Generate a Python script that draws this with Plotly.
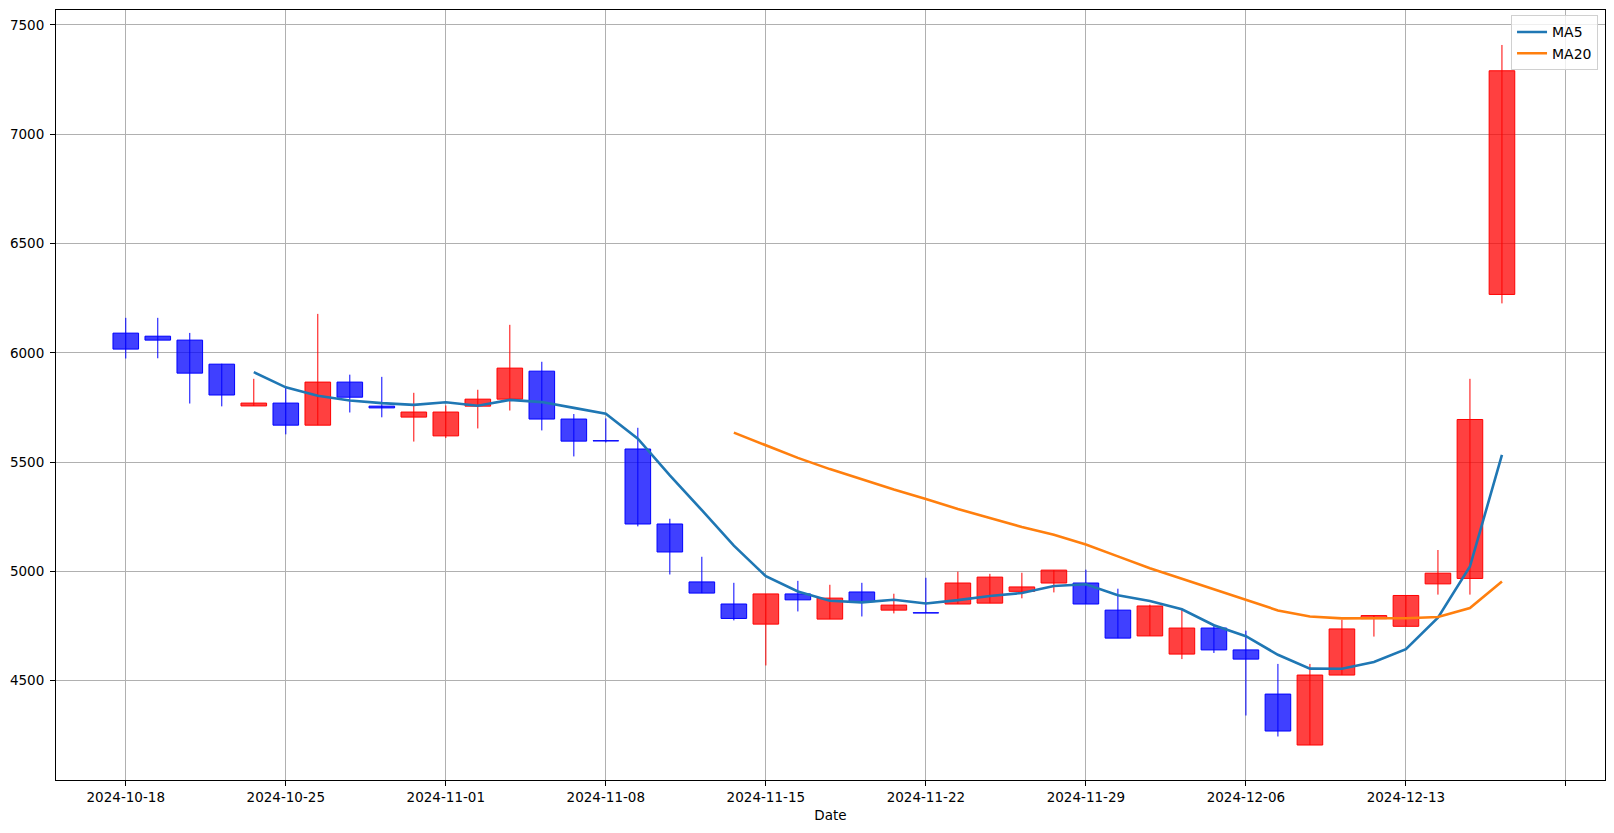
import plotly.graph_objects as go
import pandas as pd

dates = ["2024-10-18","2024-10-21","2024-10-22","2024-10-23","2024-10-24","2024-10-25",
         "2024-10-28","2024-10-29","2024-10-30","2024-10-31","2024-11-01",
         "2024-11-04","2024-11-05","2024-11-06","2024-11-07","2024-11-08",
         "2024-11-11","2024-11-12","2024-11-13","2024-11-14","2024-11-15",
         "2024-11-18","2024-11-19","2024-11-20","2024-11-21","2024-11-22",
         "2024-11-25","2024-11-26","2024-11-27","2024-11-28","2024-11-29",
         "2024-12-02","2024-12-03","2024-12-04","2024-12-05","2024-12-06",
         "2024-12-09","2024-12-10","2024-12-11","2024-12-12","2024-12-13",
         "2024-12-16","2024-12-17","2024-12-18"]

opens = [6090, 6076, 6058, 5948, 5757, 5770, 5669, 5866, 5756, 5706,
         5620, 5756, 5788, 5916, 5697, 5598, 5560, 5217, 4952, 4851,
         4759, 4897, 4782, 4906, 4823, 4811, 4851, 4855, 4909, 4947,
         4947, 4823, 4705, 4622, 4741, 4641, 4439, 4206, 4526, 4784,
         4749, 4943, 4968, 6267]
highs = [6160, 6160, 6091, 5950, 5881, 5839, 6178, 5900, 5890, 5817,
         5759, 5831, 6128, 5959, 5720, 5700, 5657, 5241, 5067, 4948,
         4897, 4957, 4939, 4948, 4898, 4971, 4999, 4989, 4994, 5006,
         5008, 4921, 4848, 4829, 4759, 4729, 4577, 4577, 4779, 4800,
         4890, 5098, 5881, 7408]
lows = [5974, 5975, 5768, 5755, 5757, 5627, 5669, 5727, 5705, 5594,
        5610, 5654, 5736, 5645, 5526, 5590, 5206, 4986, 4901, 4776,
        4570, 4817, 4782, 4794, 4808, 4810, 4851, 4855, 4877, 4904,
        4851, 4695, 4705, 4599, 4627, 4341, 4245, 4206, 4526, 4702,
        4749, 4894, 4894, 6226]
closes = [6017, 6058, 5907, 5807, 5770, 5669, 5866, 5797, 5748, 5729,
          5729, 5788, 5930, 5697, 5596, 5597, 5217, 5089, 4901, 4785,
          4897, 4870, 4878, 4862, 4846, 4810, 4947, 4974, 4929, 5006,
          4851, 4695, 4842, 4741, 4641, 4599, 4270, 4526, 4737, 4798,
          4890, 4992, 5695, 7290]

idx = list(range(len(dates)))
ma5 = pd.Series(closes).rolling(5).mean()
ma20 = pd.Series(closes).rolling(20).mean()

UP_LINE, UP_FILL = "#ff0000", "rgba(255,0,0,0.75)"
DN_LINE, DN_FILL = "#0000ff", "rgba(0,0,255,0.75)"

fig = go.Figure()

for is_up, lc, fc in [(True, UP_LINE, UP_FILL), (False, DN_LINE, DN_FILL)]:
    sel = [i for i in idx if (closes[i] > opens[i]) == is_up]
    fig.add_trace(go.Bar(
        x=sel,
        base=[min(opens[i], closes[i]) for i in sel],
        y=[abs(closes[i] - opens[i]) for i in sel],
        width=0.8,
        marker=dict(color=fc, line=dict(color=lc, width=1)),
        showlegend=False, hoverinfo="skip"))

for is_up, lc in [(True, UP_LINE), (False, DN_LINE)]:
    wx, wy = [], []
    for i in idx:
        if (closes[i] > opens[i]) == is_up:
            wx += [i, i, None]
            wy += [lows[i], highs[i], None]
    fig.add_trace(go.Scatter(x=wx, y=wy, mode="lines",
                             line=dict(color=lc, width=1),
                             showlegend=False, hoverinfo="skip"))

fig.add_trace(go.Scatter(x=idx, y=ma5, mode="lines", name="MA5",
                         line=dict(color="#1f77b4", width=2.6)))
fig.add_trace(go.Scatter(x=idx, y=ma20, mode="lines", name="MA20",
                         line=dict(color="#ff7f0e", width=2.6)))

tickvals = list(range(0, 46, 5))
ticktext = [dates[i] if i < len(dates) else "" for i in tickvals]

fnt = dict(family="DejaVu Sans", size=13.5, color="black")
# page body has an 8px default margin; the figure is sized to fit the window
fig.update_layout(
    width=1598, height=817,
    margin=dict(l=47.5, r=0.7, t=2.3, b=44.7, pad=0),
    paper_bgcolor="white", plot_bgcolor="white",
    font=fnt,
    barmode="overlay",
    showlegend=True,
    legend=dict(x=0.9955, y=0.993, xanchor="right", yanchor="top",
                bgcolor="rgba(255,255,255,0.8)", bordercolor="#d0d0d0",
                borderwidth=1,
                font=dict(family="DejaVu Sans", size=14, color="black"),
                tracegroupgap=0, itemwidth=30),
    xaxis=dict(range=[-2.18, 46.22], tickmode="array", tickvals=tickvals,
               ticktext=ticktext, showgrid=True, gridcolor="#b0b0b0",
               gridwidth=1, showline=True, linecolor="black", linewidth=1,
               mirror=True, ticks="outside", ticklen=5, tickcolor="black",
               zeroline=False, automargin=False,
               title=dict(text="Date", font=fnt, standoff=6)),
    yaxis=dict(range=[4046, 7568], tickmode="array",
               tickvals=[4500, 5000, 5500, 6000, 6500, 7000, 7500],
               showgrid=True, gridcolor="#b0b0b0", gridwidth=1,
               showline=True, linecolor="black", linewidth=1, mirror=True,
               ticks="outside", ticklen=5, tickcolor="black", zeroline=False,
               ticklabelstandoff=3, automargin=False),
)

fig.write_html("out.html")
